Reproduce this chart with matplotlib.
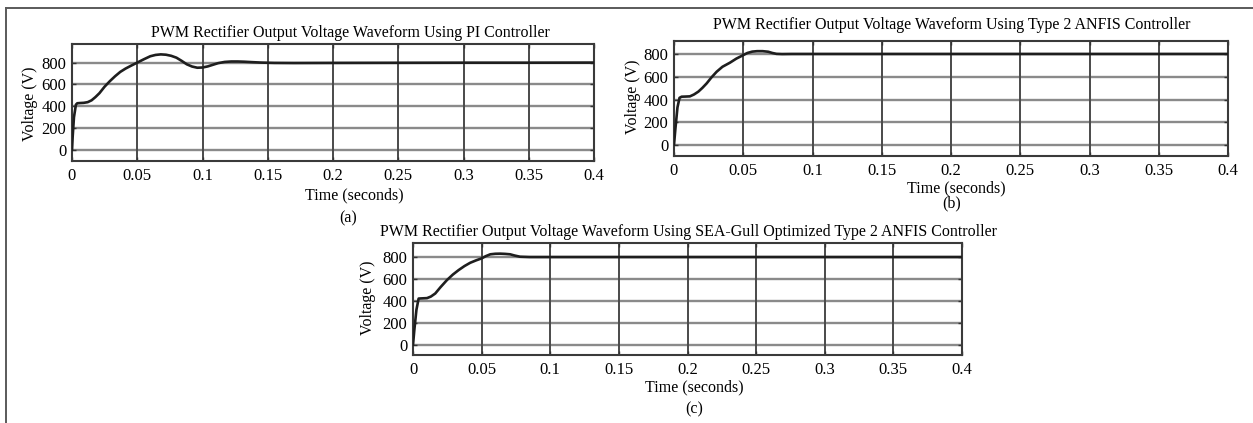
import matplotlib
matplotlib.use("Agg")
import matplotlib.pyplot as plt
from matplotlib.lines import Line2D

plt.rcParams["font.family"] = ["Liberation Serif", "DejaVu Serif"]
plt.rcParams["font.size"] = 11.5

# PI controller response
t_pi = [0.0, 0.0005, 0.0015, 0.003, 0.004, 0.006, 0.009, 0.012, 0.015, 0.018,
        0.021, 0.025, 0.029, 0.033, 0.037, 0.041, 0.045, 0.05, 0.055, 0.06,
        0.064, 0.068, 0.072, 0.076, 0.08, 0.084, 0.088, 0.092, 0.096, 0.1,
        0.104, 0.108, 0.112, 0.117, 0.122, 0.127, 0.132, 0.138, 0.145, 0.155,
        0.17, 0.2, 0.25, 0.3, 0.35, 0.4]
v_pi = [0, 120, 300, 415, 428, 430, 432, 438, 455, 485,
        520, 580, 630, 675, 715, 745, 770, 800, 830, 858,
        870, 875, 872, 862, 845, 816, 784, 764, 753, 755,
        765, 780, 795, 806, 810, 810, 808, 804, 800, 797,
        796, 797, 798, 799, 799, 800]

# Type 2 ANFIS controller response
t_anfis = [0.0, 0.001, 0.0025, 0.004, 0.0055, 0.008, 0.0115, 0.0145, 0.0176, 0.0205,
           0.0236, 0.027, 0.0308, 0.035, 0.0404, 0.045, 0.05, 0.053, 0.0565, 0.06,
           0.064, 0.068, 0.071, 0.074, 0.078, 0.085, 0.1, 0.15, 0.2, 0.25,
           0.3, 0.35, 0.4]
v_anfis = [0, 140, 330, 415, 425, 426, 428, 445, 470, 503,
           543, 595, 646, 690, 726, 762, 793, 812, 824, 828,
           828, 823, 812, 804, 802, 803, 803, 803, 803, 803,
           803, 803, 803]

# SEA-Gull optimized Type 2 ANFIS controller response
t_sg = [0.0, 0.001, 0.0025, 0.0041, 0.007, 0.0102, 0.013, 0.0162, 0.02, 0.0247,
        0.029, 0.0332, 0.0375, 0.0417, 0.046, 0.05, 0.053, 0.0563, 0.06, 0.0635,
        0.067, 0.0708, 0.074, 0.078, 0.085, 0.1, 0.15, 0.2, 0.25, 0.3,
        0.35, 0.4]
v_sg = [0, 140, 320, 422, 424, 426, 440, 468, 525, 590,
        640, 681, 718, 748, 770, 788, 808, 825, 830, 831,
        829, 825, 814, 803, 800, 800, 800, 800, 800, 800,
        800, 800]

x_ticks = [0, 0.05, 0.1, 0.15, 0.2, 0.25, 0.3, 0.35, 0.4]
x_ticklabels = ["0", "0.05", "0.1", "0.15", "0.2", "0.25", "0.3", "0.35", "0.4"]
y_ticks = [0, 200, 400, 600, 800]

titles = [
    "PWM Rectifier Output Voltage Waveform Using PI Controller",
    "PWM Rectifier Output Voltage Waveform Using Type 2 ANFIS Controller",
    "PWM Rectifier Output Voltage Waveform Using SEA-Gull Optimized Type 2 ANFIS Controller",
]
panel_tags = ["(a)", "(b)", "(c)"]

W, H = 1253, 423
fig = plt.figure(figsize=(W / 100, H / 100), dpi=100)


def px_axes(left, top, right, bottom):
    return fig.add_axes([left / W, 1 - bottom / H, (right - left) / W, (bottom - top) / H])


def fx(x):
    return x / W


def fy(y):
    return 1 - y / H


panels = [
    dict(box=(72, 44, 594, 161), ylim=(-100, 970), t=t_pi, v=v_pi,
         title=(350, 33), ylabel=(30, 104), xlabel=(354, 195), tag=(348, 218)),
    dict(box=(674, 41, 1228, 156), ylim=(-100, 918), t=t_anfis, v=v_anfis,
         title=(952, 25), ylabel=(633, 97), xlabel=(956, 188), tag=(952, 203)),
    dict(box=(413, 243, 962, 355), ylim=(-92, 928), t=t_sg, v=v_sg,
         title=(689, 232), ylabel=(368, 298), xlabel=(694, 387), tag=(694, 409)),
]

for i, p in enumerate(panels):
    ax = px_axes(*p["box"])
    ax.set_xlim(0, 0.4)
    ax.set_ylim(*p["ylim"])
    ax.set_xticks(x_ticks)
    ax.set_xticklabels(x_ticklabels)
    ax.set_yticks(y_ticks)
    for yv in y_ticks:
        ax.axhline(yv, color="#8a8a8a", lw=1.7, zorder=1)
    for xv in x_ticks[1:-1]:
        ax.axvline(xv, color="#4a4a4a", lw=1.4, zorder=1)
    ax.plot(p["t"], p["v"], color="#1e1e1e", lw=1.9, zorder=3,
            solid_joinstyle="round", solid_capstyle="round")
    ax.tick_params(direction="in", top=True, right=True, length=3, width=1,
                   color="#333333", labelsize=12, pad=4)
    ax.tick_params(axis="x", pad=5)
    for s in ax.spines.values():
        s.set_color("#3a3a3a")
        s.set_linewidth(1.5)
    fig.text(fx(p["title"][0]), fy(p["title"][1]), titles[i], ha="center", va="center")
    fig.text(fx(p["ylabel"][0]), fy(p["ylabel"][1]), "Voltage (V)", ha="center", va="center",
             rotation=90)
    fig.text(fx(p["xlabel"][0]), fy(p["xlabel"][1]), "Time (seconds)", ha="center", va="center")
    fig.text(fx(p["tag"][0]), fy(p["tag"][1]), panel_tags[i], ha="center", va="center")

# outer frame lines (top and left)
fig.add_artist(Line2D([fx(6), 1.0], [fy(8), fy(8)], color="#5a5a5a", lw=1.4))
fig.add_artist(Line2D([fx(6), fx(6)], [fy(8), 0.0], color="#5a5a5a", lw=1.4))

fig.savefig("out.png", dpi=100)
